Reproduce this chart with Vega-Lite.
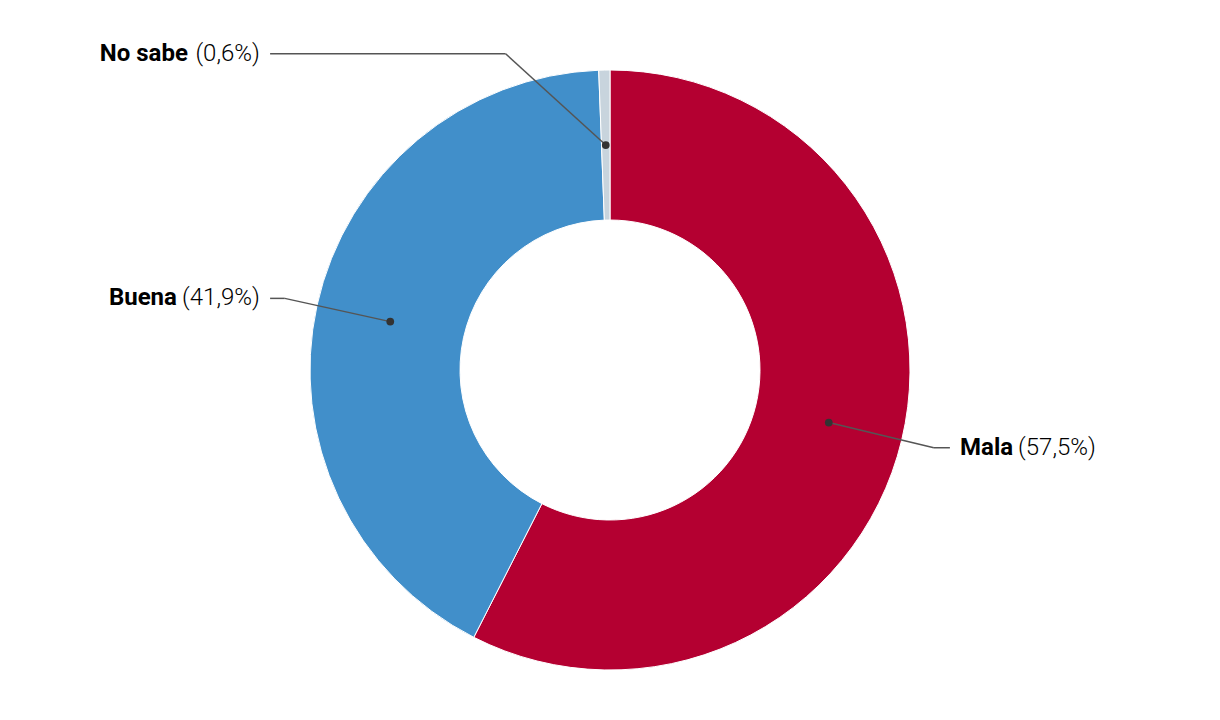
{
  "$schema": "https://vega.github.io/schema/vega-lite/v6.json",
  "width": 1220,
  "height": 700,
  "padding": {"top": 20, "left": 0, "right": 0, "bottom": 0},
  "autosize": "none",
  "background": "white",
  "config": {"view": {"stroke": null}},
  "data": {
    "values": [
      {"name": "Mala", "value": 57.5, "pct": "(57,5%)", "ord": 1},
      {"name": "Buena", "value": 41.9, "pct": "(41,9%)", "ord": 2},
      {"name": "No sabe", "value": 0.6, "pct": "(0,6%)", "ord": 3}
    ]
  },
  "transform": [
    {"window": [{"op": "sum", "field": "value", "as": "cum"}], "sort": [{"field": "ord"}], "frame": [null, 0]},
    {"joinaggregate": [{"op": "sum", "field": "value", "as": "total"}]},
    {"calculate": "2*PI*(datum.cum - datum.value/2)/datum.total", "as": "a"},
    {"calculate": "datum.a - (datum.value/datum.total < 0.05 ? 0.30 : 0)", "as": "ea"},
    {"calculate": "0.75*sin(datum.a)", "as": "x0"},
    {"calculate": "0.75*cos(datum.a)", "as": "y0"},
    {"calculate": "1.11*sin(datum.ea)", "as": "x1"},
    {"calculate": "1.11*cos(datum.ea)", "as": "y1"},
    {"calculate": "datum.x1 > 0 ? 1 : -1", "as": "side"},
    {"calculate": "datum.side*1.133", "as": "x2"},
    {"calculate": "datum.side*1.167", "as": "tx"},
    {"calculate": "datum.tx + (length(datum.name)*13 + 6)/300", "as": "pctRight"},
    {"calculate": "datum.tx - (length(datum.pct)*11 + 6)/300", "as": "nameLeft"}
  ],
  "layer": [
    {
      "mark": {"type": "arc", "outerRadius": 300, "innerRadius": 150, "stroke": "white", "strokeWidth": 1},
      "encoding": {
        "theta": {"field": "value", "type": "quantitative", "stack": true},
        "order": {"field": "ord", "type": "quantitative", "sort": "ascending"},
        "color": {
          "field": "name", "type": "nominal",
          "scale": {"domain": ["Mala", "Buena", "No sabe"], "range": ["#b40031", "#418fca", "#c8d4dd"]},
          "legend": null
        }
      }
    },
    {
      "mark": {"type": "rule", "color": "#555555", "strokeWidth": 1.5},
      "encoding": {
        "x": {"field": "x0", "type": "quantitative", "scale": {"domain": [-2.03333, 2.03333], "nice": false, "zero": false}, "axis": null},
        "y": {"field": "y0", "type": "quantitative", "scale": {"domain": [-1.16667, 1.16667], "nice": false, "zero": false}, "axis": null},
        "x2": {"field": "x1"},
        "y2": {"field": "y1"}
      }
    },
    {
      "mark": {"type": "rule", "color": "#555555", "strokeWidth": 1.5},
      "encoding": {
        "x": {"field": "x1", "type": "quantitative"},
        "y": {"field": "y1", "type": "quantitative"},
        "x2": {"field": "x2"},
        "y2": {"field": "y1"}
      }
    },
    {
      "mark": {"type": "point", "filled": true, "color": "#333333", "size": 60, "opacity": 1},
      "encoding": {
        "x": {"field": "x0", "type": "quantitative"},
        "y": {"field": "y0", "type": "quantitative"}
      }
    },
    {
      "transform": [{"filter": "datum.side > 0"}],
      "mark": {"type": "text", "font": "Roboto", "fontSize": 24, "fontWeight": "bold", "align": "left", "baseline": "middle", "color": "#000000"},
      "encoding": {
        "x": {"field": "tx", "type": "quantitative"},
        "y": {"field": "y1", "type": "quantitative"},
        "text": {"field": "name"}
      }
    },
    {
      "transform": [{"filter": "datum.side > 0"}],
      "mark": {"type": "text", "font": "Roboto", "fontSize": 24, "fontWeight": 300, "align": "left", "baseline": "middle", "color": "#000000"},
      "encoding": {
        "x": {"field": "pctRight", "type": "quantitative"},
        "y": {"field": "y1", "type": "quantitative"},
        "text": {"field": "pct"}
      }
    },
    {
      "transform": [{"filter": "datum.side < 0"}],
      "mark": {"type": "text", "font": "Roboto", "fontSize": 24, "fontWeight": 300, "align": "right", "baseline": "middle", "color": "#000000"},
      "encoding": {
        "x": {"field": "tx", "type": "quantitative"},
        "y": {"field": "y1", "type": "quantitative"},
        "text": {"field": "pct"}
      }
    },
    {
      "transform": [{"filter": "datum.side < 0"}],
      "mark": {"type": "text", "font": "Roboto", "fontSize": 24, "fontWeight": "bold", "align": "right", "baseline": "middle", "color": "#000000"},
      "encoding": {
        "x": {"field": "nameLeft", "type": "quantitative"},
        "y": {"field": "y1", "type": "quantitative"},
        "text": {"field": "name"}
      }
    }
  ]
}
